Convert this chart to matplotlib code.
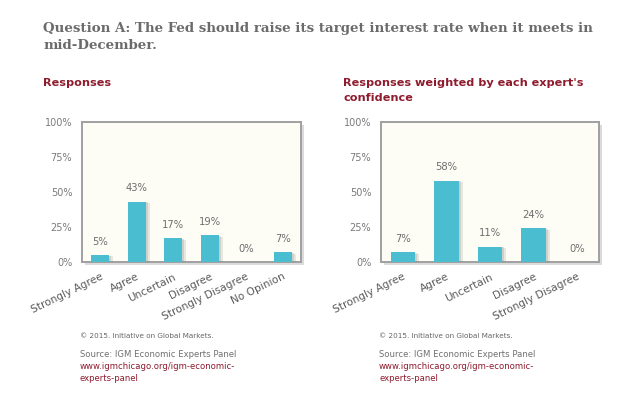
import matplotlib
matplotlib.use("Agg")
import matplotlib.pyplot as plt
import matplotlib.patheffects as pe

# ---- data ----
title_line1 = "Question A: The Fed should raise its target interest rate when it meets in"
title_line2 = "mid-December."
left_title = "Responses"
right_title = ["Responses weighted by each expert's", "confidence"]

left_categories = ["Strongly Agree", "Agree", "Uncertain", "Disagree", "Strongly Disagree", "No Opinion"]
left_values = [5, 43, 17, 19, 0, 7]

right_categories = ["Strongly Agree", "Agree", "Uncertain", "Disagree", "Strongly Disagree"]
right_values = [7, 58, 11, 24, 0]

yticks = [0, 25, 50, 75, 100]
ytick_labels = ["0%", "25%", "50%", "75%", "100%"]

footer_copy = "\u00a9 2015. Initiative on Global Markets."
footer_source = "Source: IGM Economic Experts Panel"
footer_url = ["www.igmchicago.org/igm-economic-", "experts-panel"]

# ---- style ----
W, H = 640, 404
BAR = "#4bbdd1"
BG = "#fdfcf5"
RED = "#8e1b2e"
GRAY_T = "#6b6b6b"
GRAY_L = "#6e6e6e"

fig = plt.figure(figsize=(W / 100, H / 100), dpi=100)
fig.patch.set_facecolor("white")


def fy(px):
    return 1 - px / H


def fx(px):
    return px / W


def make_panel(rect, cats, vals, width):
    ax = fig.add_axes(rect)
    ax.set_facecolor(BG)
    ax.patch.set_path_effects([
        pe.SimplePatchShadow(offset=(2.2, -2.2), shadow_rgbFace="#999999", alpha=0.35),
        pe.Normal()])
    x = list(range(len(cats)))
    bars = ax.bar(x, vals, width=width, color=BAR, zorder=3)
    for b in bars:
        b.set_path_effects([
            pe.SimplePatchShadow(offset=(3, -1), shadow_rgbFace="#888888", alpha=0.18),
            pe.SimplePatchShadow(offset=(1.5, -0.5), shadow_rgbFace="#888888", alpha=0.25),
            pe.Normal()])
    for xi, v in zip(x, vals):
        ax.annotate(f"{v}%", (xi, v), xytext=(0, 6), textcoords="offset points",
                    ha="center", va="bottom", fontsize=7.2, color=GRAY_L,
                    family="DejaVu Sans")
    ax.set_xlim(-0.5, len(cats) - 0.5)
    ax.set_ylim(0, 100)
    ax.set_yticks(yticks)
    ax.set_yticklabels(ytick_labels, fontsize=7, color="#7a7a7a")
    ax.set_xticks(x)
    ax.set_xticklabels(cats, fontsize=7.6, color="#5a5a5a", rotation=26,
                       ha="right", va="top", rotation_mode="anchor")
    ax.tick_params(axis="both", length=0)
    ax.tick_params(axis="y", pad=7)
    ax.tick_params(axis="x", pad=7)
    for s in ax.spines.values():
        s.set_color("#a0a0a0")
        s.set_linewidth(1.4)
    return ax


# axes rectangles from pixel boxes
lx0, lx1, y0, y1 = 82, 301, 122, 262
rx0, rx1 = 381, 599
make_panel([fx(lx0), fy(y1), fx(lx1 - lx0), (y1 - y0) / H], left_categories, left_values, 0.49)
make_panel([fx(rx0), fy(y1), fx(rx1 - rx0), (y1 - y0) / H], right_categories, right_values, 0.56)

# titles
tfont = dict(family="DejaVu Serif", weight="bold", color=GRAY_T, fontsize=9.6)
fig.text(fx(43), fy(31.7), title_line1, va="baseline", ha="left", **tfont)
fig.text(fx(43), fy(49.3), title_line2, va="baseline", ha="left", **tfont)

sfont = dict(family="DejaVu Sans", weight="bold", color=RED, fontsize=8.1)
fig.text(fx(43), fy(86), left_title, va="baseline", ha="left", **sfont)
fig.text(fx(343), fy(86), right_title[0], va="baseline", ha="left", **sfont)
fig.text(fx(343), fy(100.7), right_title[1], va="baseline", ha="left", **sfont)

# footers
for xpx in (80, 379):
    fig.text(fx(xpx), fy(338), footer_copy, va="baseline", ha="left",
             fontsize=5.2, color="#666666")
    fig.text(fx(xpx), fy(357), footer_source, va="baseline", ha="left",
             fontsize=6.1, color="#707070")
    fig.text(fx(xpx), fy(369), footer_url[0], va="baseline", ha="left",
             fontsize=6.1, color=RED)
    fig.text(fx(xpx), fy(381), footer_url[1], va="baseline", ha="left",
             fontsize=6.1, color=RED)

fig.savefig("out.png", dpi=100)
